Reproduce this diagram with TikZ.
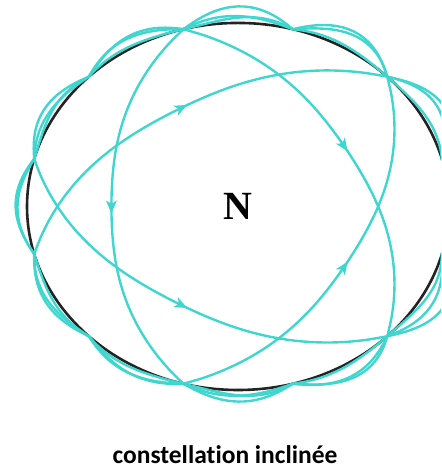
\documentclass[tikz,border=0pt]{standalone}
\usepackage{fontspec}
\usepackage{tikz}
\usetikzlibrary{decorations.markings}
\newfontfamily\capfont[Ligatures=NoCommon]{Carlito}
\newfontfamily\timesfont{Liberation Serif}
\definecolor{orbitcyan}{RGB}{64,214,208}
\definecolor{eqgray}{RGB}{35,35,35}

\begin{document}
\begin{tikzpicture}[x=211pt, y=183.5pt,
    orbit/.style={draw=orbitcyan, line width=2.4pt},
    orbitarrow/.style={decoration={markings, mark=at position 0.5 with {\fill[orbitcyan] (7pt,0pt) -- (-6pt,5.5pt) -- (-2.5pt,0pt) -- (-6pt,-5.5pt) -- cycle;}}, postaction=decorate}]
  \clip (-1.128,-1.425) rectangle (0.962,1.125);
  % equator
  \draw[eqgray, line width=2.6pt] (0,0) ellipse (1 and 1);
  % orbits: centre of the inner arc / sense of motion / bulge outside
  \foreach \c/\s/\a in {180/1/0.13, 30/-1/0.05, -30/1/0.06, 120/-1/0.07, 240/1/0.10} {
    \draw[orbit, orbitarrow] plot[smooth, domain=-75:75, samples=31] ({\c+\s*\x}:{0.6+0.4*(\x/75)*(\x/75)});
    \draw[orbit] plot[domain=0:210, samples=141] ({\c+75+\x}:{1+\a*sin(\x*6/7)*abs(sin(6*(\c+60+\x)))});
  }
  \node (north) at (0,0) {\timesfont\bfseries\fontsize{40}{40}\selectfont N};
  \node[anchor=base] (caption) at (-0.062,-1.398) {\capfont\bfseries\fontsize{25.5}{26}\selectfont constellation inclinée};
\end{tikzpicture}
\end{document}
